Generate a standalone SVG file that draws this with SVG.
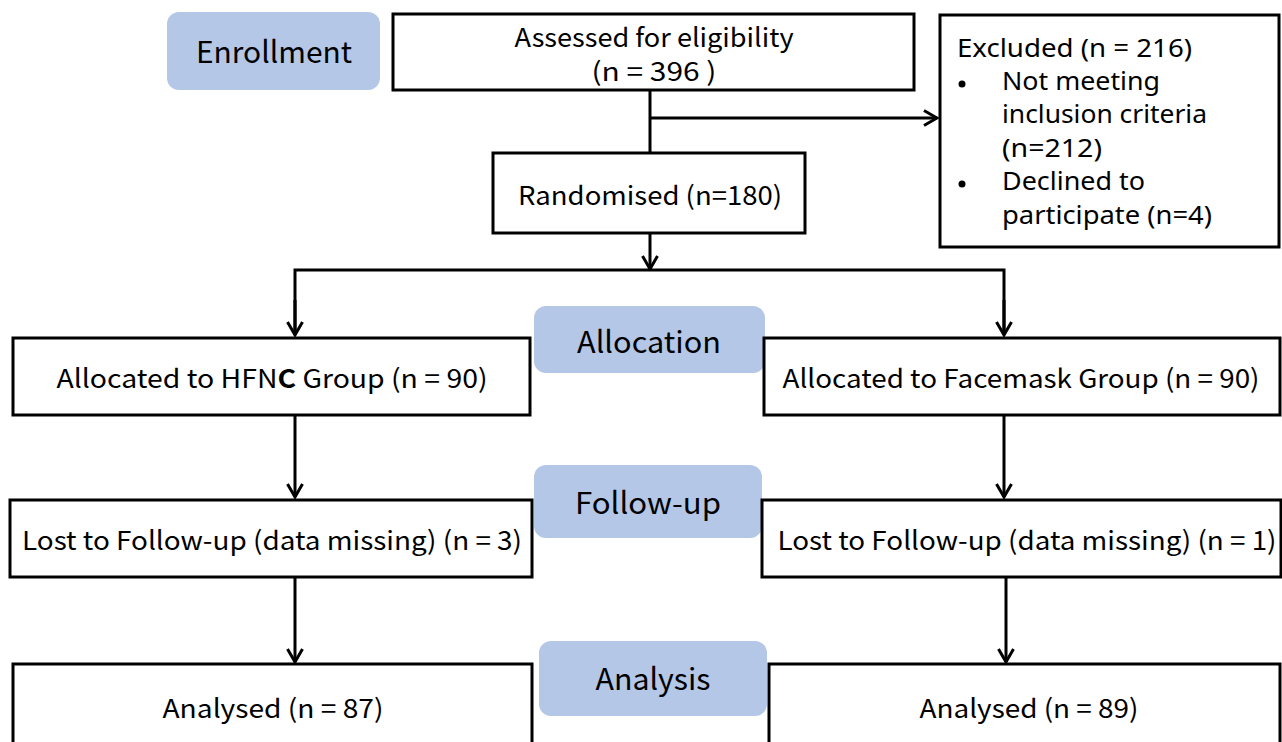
<svg xmlns="http://www.w3.org/2000/svg" width="1282" height="742" viewBox="0 0 1282 742">
<defs>
<marker id="arr" viewBox="0 0 16 18" refX="14" refY="9" markerWidth="16" markerHeight="18" markerUnits="userSpaceOnUse" orient="auto">
<path d="M1,1.5 L14,9 L1,16.5" fill="none" stroke="#000" stroke-width="3"/>
</marker>
<style>
.box{fill:#fff;stroke:#000;stroke-width:3}
.pill{fill:#b4c7e7;stroke:none}
.t{font-family:"Noto Sans CJK SC","Liberation Sans",sans-serif;font-size:26px;fill:#000;text-anchor:middle;dominant-baseline:central}
.h{font-family:"Noto Sans CJK SC","Liberation Sans",sans-serif;font-size:30px;fill:#000;text-anchor:middle;dominant-baseline:central}
.l{font-family:"Noto Sans","Liberation Sans",sans-serif;font-size:25px;fill:#000;dominant-baseline:central}
.c{fill:none;stroke:#000;stroke-width:3}
</style>
</defs>
<rect width="1282" height="742" fill="#fff"/>
<g id="enrollment"><rect class="pill" x="167" y="12" width="213" height="78" rx="12"/><text class="h" x="274" y="50" textLength="156" lengthAdjust="spacingAndGlyphs">Enrollment</text></g>
<g id="allocation"><rect class="pill" x="534" y="306" width="231" height="67" rx="12"/><text class="h" x="649" y="340" textLength="144" lengthAdjust="spacingAndGlyphs">Allocation</text></g>
<g id="followup"><rect class="pill" x="534" y="465" width="228" height="73" rx="12"/><text class="h" x="648" y="501" textLength="146" lengthAdjust="spacingAndGlyphs">Follow-up</text></g>
<g id="analysis"><rect class="pill" x="539" y="641" width="228" height="75" rx="12"/><text class="h" x="653" y="677" textLength="115" lengthAdjust="spacingAndGlyphs">Analysis</text></g>
<g id="connectors">
<line class="c" x1="650" y1="90" x2="650" y2="153"/>
<line class="c" x1="650" y1="118" x2="937" y2="118" marker-end="url(#arr)"/>
<line class="c" x1="650" y1="233" x2="650" y2="269" marker-end="url(#arr)"/>
<polyline class="c" points="295,333 295,270 1004,270 1004,333"/>
<line class="c" x1="295" y1="300" x2="295" y2="335" marker-end="url(#arr)"/>
<line class="c" x1="1004" y1="300" x2="1004" y2="335" marker-end="url(#arr)"/>
<line class="c" x1="295" y1="415" x2="295" y2="497" marker-end="url(#arr)"/>
<line class="c" x1="1004" y1="415" x2="1004" y2="497" marker-end="url(#arr)"/>
<line class="c" x1="295" y1="577" x2="295" y2="662" marker-end="url(#arr)"/>
<line class="c" x1="1006" y1="577" x2="1006" y2="662" marker-end="url(#arr)"/>
</g>
<g id="assessed"><rect class="box" x="393" y="14" width="521" height="76"/><text class="t" x="654" y="35" textLength="279" lengthAdjust="spacingAndGlyphs">Assessed for eligibility</text><text class="t" x="654" y="69" textLength="125" lengthAdjust="spacingAndGlyphs">(n = 396 )</text></g>
<g id="excluded"><rect class="box" x="940" y="15" width="339" height="232"/>
<text class="l" x="957" y="47" textLength="235" lengthAdjust="spacingAndGlyphs">Excluded (n = 216)</text>
<circle cx="962" cy="84" r="3.5"/>
<text class="l" x="1002" y="80" textLength="158" lengthAdjust="spacingAndGlyphs">Not meeting</text>
<text class="l" x="1002" y="113" textLength="205" lengthAdjust="spacingAndGlyphs">inclusion criteria</text>
<text class="l" x="1002" y="147" textLength="100" lengthAdjust="spacingAndGlyphs">(n=212)</text>
<circle cx="962" cy="184" r="3.5"/>
<text class="l" x="1002" y="180" textLength="143" lengthAdjust="spacingAndGlyphs">Declined to</text>
<text class="l" x="1002" y="214" textLength="210" lengthAdjust="spacingAndGlyphs">participate (n=4)</text></g>
<g id="randomised"><rect class="box" x="493" y="153" width="312" height="80"/><text class="t" x="650" y="193" textLength="264" lengthAdjust="spacingAndGlyphs">Randomised (n=180)</text></g>
<g id="hfnc"><rect class="box" x="13" y="338" width="517" height="77"/><text class="t" x="272" y="376" textLength="431" lengthAdjust="spacingAndGlyphs">Allocated to HFN<tspan font-weight="bold">C</tspan> Group (n = 90)</text></g>
<g id="facemask"><rect class="box" x="764" y="338" width="516" height="77"/><text class="t" x="1021" y="376" textLength="477" lengthAdjust="spacingAndGlyphs">Allocated to Facemask Group (n = 90)</text></g>
<g id="lost-left"><rect class="box" x="10" y="500" width="522" height="77"/><text class="t" x="272" y="538" textLength="500" lengthAdjust="spacingAndGlyphs">Lost to Follow-up (data missing) (n = 3)</text></g>
<g id="lost-right"><rect class="box" x="762" y="500" width="519" height="77"/><text class="t" x="1027" y="538" textLength="499" lengthAdjust="spacingAndGlyphs">Lost to Follow-up (data missing) (n = 1)</text></g>
<g id="analysed-left"><rect class="box" x="13" y="664" width="519" height="100"/><text class="t" x="273" y="706" textLength="221" lengthAdjust="spacingAndGlyphs">Analysed (n = 87)</text></g>
<g id="analysed-right"><rect class="box" x="769" y="664" width="511" height="100"/><text class="t" x="1029" y="706" textLength="219" lengthAdjust="spacingAndGlyphs">Analysed (n = 89)</text></g>
</svg>
